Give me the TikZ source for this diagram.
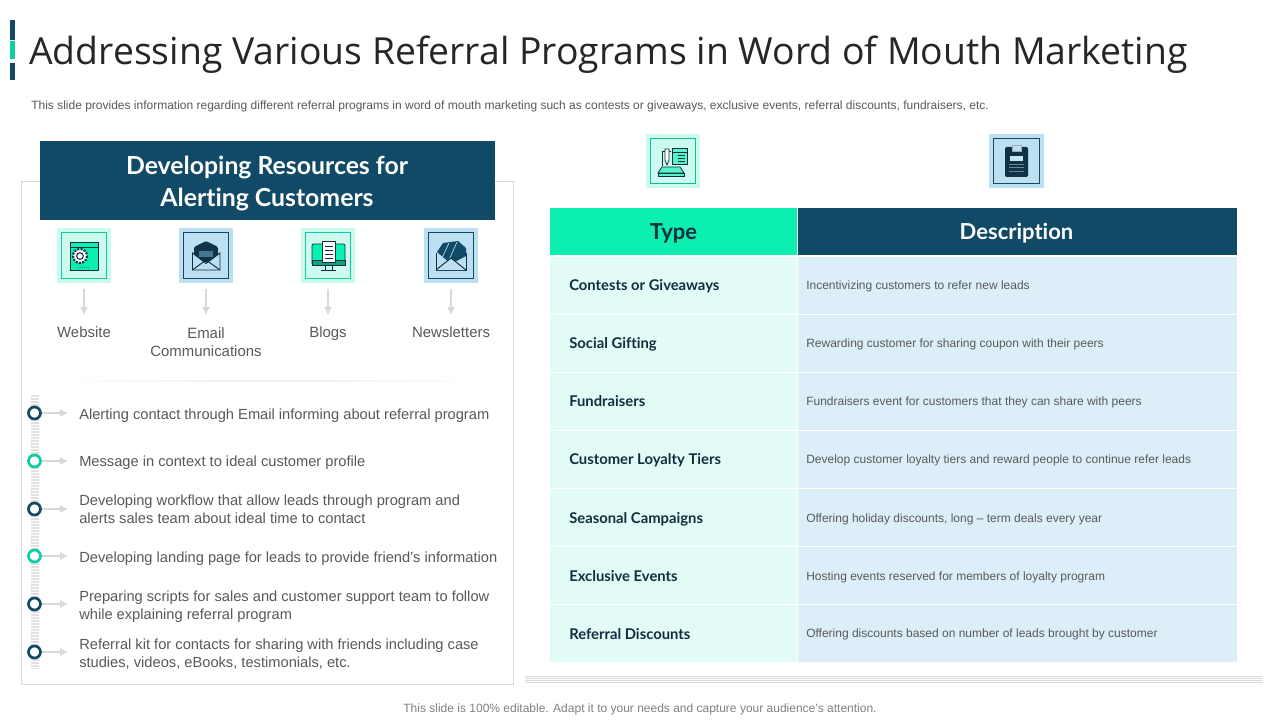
\documentclass[tikz,border=0pt]{standalone}
\usepackage{fontspec}
\usetikzlibrary{arrows.meta}
\setmainfont{Liberation Sans}
\newfontfamily\titlefont{Open Sans}
\newfontfamily\headfont[Ligatures=NoCommon]{Lato}
\definecolor{navy}{HTML}{114A66}
\definecolor{mint}{HTML}{0BEFB0}
\definecolor{minttile}{HTML}{CDFAEF}
\definecolor{bluetile}{HTML}{BCE0F2}
\definecolor{rowmint}{HTML}{E2FBF6}
\definecolor{rowblue}{HTML}{DCEFF8}
\definecolor{txt}{HTML}{595959}
\definecolor{ink}{HTML}{0F2F3F}
\definecolor{rule}{HTML}{D9D9D9}
\tikzset{
  tile/.style={minimum width=41pt,minimum height=41pt,inner sep=0pt},
  inner/.style={draw,line width=0.7pt,minimum width=34pt,minimum height=34pt,inner sep=0pt},
  caption/.style={text=txt,font=\fontsize{11.2}{13.5}\selectfont,align=center},
  bullet/.style={text=txt,font=\fontsize{11}{13.5}\selectfont,anchor=west,align=left,inner sep=0pt},
  dot/.style={circle,draw=#1,fill=white,line width=2pt,minimum size=9pt,inner sep=0pt},
  tip/.style={draw=rule,line width=0.8pt,-{Latex[length=6pt,width=6pt]}},
  typecell/.style={fill=rowmint,minimum width=185.5pt,minimum height=#1,inner sep=0pt},
  desccell/.style={fill=rowblue,minimum width=329.5pt,minimum height=#1,inner sep=0pt},
  typelabel/.style={anchor=west,inner sep=0pt,text=ink,font=\headfont\bfseries\fontsize{11.1}{13}\selectfont},
  desclabel/.style={anchor=west,inner sep=0pt,text=txt,font=\fontsize{9}{11}\selectfont},
}
\begin{document}
\begin{tikzpicture}[x=0.75pt,y=-0.75pt]
\useasboundingbox (0,0) rectangle (1280,720);
\fill[white] (0,0) rectangle (1280,720);
% title
\fill[navy] (10,20) rectangle (15,40);
\fill[mint!80!navy] (10,41) rectangle (15,59);
\fill[navy] (10,63) rectangle (15,80);
\node[anchor=west,inner sep=0pt,text=black!85,font=\titlefont\fontsize{28}{32}\selectfont] (title) at (29,55) {Addressing Various Referral Programs in Word of Mouth Marketing};
\node[anchor=west,inner sep=0pt,text=txt,font=\fontsize{9}{11}\selectfont] (intro) at (31,106) {This slide provides information regarding different referral programs in word of mouth marketing such as contests or giveaways, exclusive events, referral discounts, fundraisers, etc.};
% left panel
\draw[rule,line width=0.7pt] (21.5,181.5) rectangle (513.5,684);
\node[fill=navy,minimum width=341.25pt,minimum height=59.25pt,inner sep=0pt] (head) at (267.5,180.5) {};
\node[align=center,text=white,font=\headfont\bfseries\fontsize{18.6}{24}\selectfont] (headtext) at (267,184) {Developing Resources for\\Alerting Customers};
\foreach \name/\x/\col/\back/\y/\lab in {web/84/mint!80!navy/minttile/332/Website,mail/206/navy/bluetile/342/{Email\\Communications},blog/328/mint!80!navy/minttile/333.5/Blogs,news/451/navy/bluetile/332/Newsletters}{
  \node[tile,fill=\back] (\name) at (\x,255.5) {};
  \node[inner,draw=\col] (\name in) at (\x,255.5) {};
  \node[caption] (\name lab) at (\x,\y) {\lab};
  \coordinate (\name end) at (\x,315);
  \draw[tip] (\name.south) ++(0,6) -- (\name end);
}
% website icon
\fill[mint] (70,242) rectangle (98,270);
\draw[ink,line width=0.6pt] (70,242) rectangle (98,270) (70,247) -- (98,247);
\draw[ink,fill=white,line width=1.6pt,dash pattern=on 1.5pt off 1pt] (80,256) circle (7);
\node[circle,draw=ink,fill=white,line width=0.8pt,minimum size=5pt,inner sep=0pt] (gear) at (80,256) {};
\draw[ink!70,line width=0.5pt,densely dotted] (78,267) -- (90,267);
% mail icon
\fill[ink!80!navy,rounded corners=1pt] (194,247) -- (206,241) -- (218,247) -- (218,262) -- (194,262) -- cycle;
\fill[navy!70!bluetile] (199,251) rectangle (213,257);
\draw[ink,fill=bluetile,line width=0.7pt] (192.5,253) -- (206,263.5) -- (220,253) -- (220,270) -- (192.5,270) -- cycle;
\draw[ink,line width=0.7pt] (192.5,270) -- (206,260) -- (220,270);
% blog icon
\fill[mint,rounded corners=1pt] (312,244) rectangle (345,263);
\draw[ink,line width=0.7pt,rounded corners=1pt] (312,244) rectangle (345,265);
\draw[ink,fill=ink!40!mint,line width=0.7pt] (312,260) rectangle (345,265);
\draw[ink,line width=0.7pt] (325,265) -- (325,270) (332,265) -- (332,270) (321,270.5) -- (336,270.5);
\draw[ink,fill=white,line width=0.7pt] (322,241) rectangle (335,262);
\foreach \y in {246,250,254,258}{\draw[ink,line width=0.6pt] (324.5,\y) -- (332.5,\y);}
% newsletter icon
\fill[navy] (437,252) -- (443,243) -- (458,241) -- (466,248) -- (466,256) -- (451,264) -- cycle;
\draw[bluetile,line width=0.5pt] (442,258) -- (449,243) (449,260) -- (457,242);
\draw[ink,line width=0.7pt] (436,253) -- (436,270) -- (466,270) -- (466,253);
\fill[bluetile] (436,270) -- (451,258) -- (466,270) -- cycle;
\draw[ink,line width=0.7pt] (436,270) -- (451,258) -- (466,270);
% divider
\shade[left color=white,right color=white,middle color=rule!45] (50,380.5) rectangle (490,381.5);
% timeline band
\foreach \y in {395,396.5,...,668}{\draw[rule!80,line width=0.5pt] (30.5,\y) -- (38.5,\y);}
\foreach \i/\y/\ty/\col/\txtlab in {
  a/413/415.5/navy/{Alerting contact through Email informing about referral program},
  b/461/463/mint!80!navy/{Message in context to ideal customer profile},
  c/509/509/navy/{Developing workflow that allow leads through program and\\alerts sales team about ideal time to contact},
  d/556/559/mint!80!navy/{Developing landing page for leads to provide friend’s information},
  e/604/607/navy/{Preparing scripts for sales and customer support team to follow\\while explaining referral program},
  f/652/654/navy/{Referral kit for contacts for sharing with friends including case\\studies, videos, eBooks, testimonials, etc.}}{
  \node[dot=\col] (dot\i) at (34.5,\y) {};
  \coordinate (tip\i) at (68,\y);
  \draw[tip] (dot\i) -- (tip\i);
  \node[bullet] (item\i) at (79,\ty) {\txtlab};
}
% table icons
\node[tile,fill=minttile] (typeicon) at (673,161) {};
\node[inner,draw=mint!70!navy,minimum width=34pt] (typein) at (673,161) {};
\node[tile,fill=bluetile] (descicon) at (1016.5,161) {};
\node[inner,draw=navy] (descin) at (1016.5,161) {};
\draw[ink,fill=mint!70,line width=0.6pt] (672,148) rectangle (687,164);
\draw[ink,line width=0.6pt] (672,152) -- (687,152);
\foreach \y in {155.5,158.5,161.5}{\draw[ink,line width=0.5pt] (678,\y) -- (685,\y);}
\draw[ink,line width=0.6pt] (662,166) -- (662,151) -- (671,151);
\draw[ink,fill=white,line width=0.6pt] (665,149) -- (669,149) -- (669,160) -- (667,165) -- (665,160) -- cycle;
\draw[ink,fill=mint!70,line width=0.6pt] (662,167) -- (680,167) -- (684,173) -- (658,173) -- cycle;
\draw[ink,fill=mint!70,line width=0.6pt] (658,173) rectangle (684,176.5);
\fill[ink!85!navy,rounded corners=1pt] (1005,147) rectangle (1028,177);
\draw[ink!40,fill=bluetile,line width=0.5pt] (1012.5,145) rectangle (1021,151);
\fill[bluetile!80] (1010,156) rectangle (1023,161);
\foreach \y in {164,167,171}{\draw[bluetile!50!ink,line width=0.4pt] (1009,\y) -- (1024,\y);}
% table
\node[fill=mint,minimum width=185.5pt,minimum height=35.25pt,inner sep=0pt] (typehead) at (673.5,231.5) {};
\node[fill=navy,minimum width=329.5pt,minimum height=35.25pt,inner sep=0pt] (deschead) at (1017.5,231.5) {};
\node[text=ink,font=\headfont\bfseries\fontsize{16.5}{20}\selectfont] (typetext) at (673.5,233) {Type};
\node[text=white,font=\headfont\bfseries\fontsize{16.5}{20}\selectfont] (desctext) at (1016.5,233) {Description};
\foreach \i/\y/\ty/\dy/\a/\b in {
  1/285/286/286/{Contests or Giveaways}/{Incentivizing customers to refer new leads},
  2/343/344/344/{Social Gifting}/{Rewarding customer for sharing coupon with their peers},
  3/401/401/402/{Fundraisers}/{Fundraisers event for customers that they can share with peers},
  4/459/460/460/{Customer Loyalty Tiers}/{Develop customer loyalty tiers and reward people to continue refer leads},
  5/517/519/519/{Seasonal Campaigns}/{Offering holiday discounts, long – term deals every year},
  6/575/576/577/{Exclusive Events}/{Hosting events reserved for members of loyalty program},
  7/633.5/634/634/{Referral Discounts}/{Offering discounts based on number of leads brought by customer}}{
  \node[typecell=42.75pt] (type\i) at (673.5,\y) {};
  \node[desccell=42.75pt] (desc\i) at (1017.5,\y) {};
  \node[typelabel] (typelab\i) at (569,\ty) {\a};
  \node[desclabel] (desclab\i) at (806,\dy) {\b};
}
% bottom rule
\foreach \y in {676.5,678.5,680.5,682}{\draw[rule,line width=0.5pt] (525,\y) -- (1262,\y);}
\node[text=black!50,font=\fontsize{9}{11}\selectfont] (foot) at (640,709.5) {This slide is 100\% editable. Adapt it to your needs and capture your audience’s attention.};
\end{tikzpicture}
\end{document}
